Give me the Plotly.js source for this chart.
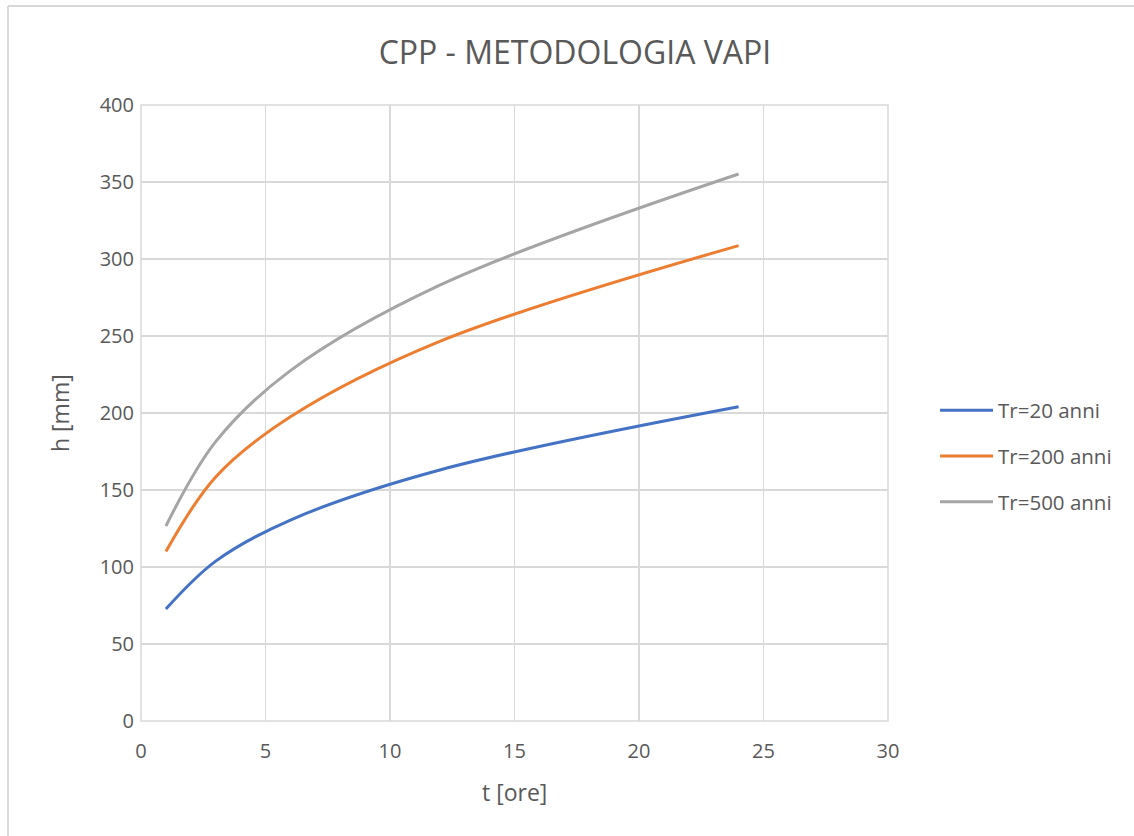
<!DOCTYPE html>
<html>
<head>
<meta charset="utf-8">
<script src="https://cdn.plot.ly/plotly-3.0.1.min.js"></script>
<style>html,body{margin:0;padding:0;background:#fff;}#chart{width:1134px;height:836px;}</style>
</head>
<body>
<div id="chart"></div>
<script>
const durations = [1, 3, 6, 12, 24];
const tr20 = [72.7, 103.8, 130.5, 163, 204.1];
const tr200 = [110, 158.5, 197.5, 246.5, 308.7];
const tr500 = [126.6, 181.4, 227.5, 283, 355.2];
const seriesNames = ['Tr=20 anni', 'Tr=200 anni', 'Tr=500 anni'];
const seriesColors = ['#4472C4', '#ED7D31', '#A5A5A5'];
const seriesValues = [tr20, tr200, tr500];

const FONT = 'Segoe UI, "Open Sans", "Noto Sans", sans-serif';
const TXT = '#595959';

const traces = seriesValues.map((v, i) => ({
  x: durations, y: v, type: 'scatter', mode: 'lines', name: seriesNames[i],
  legendgroup: 'g' + i,
  line: {color: seriesColors[i], width: 3, shape: 'spline', smoothing: 1}
}));

const layout = {
  width: 1134, height: 836,
  margin: {l: 141, r: 246, t: 105, b: 115},
  paper_bgcolor: '#ffffff', plot_bgcolor: '#ffffff',
  font: {family: FONT, color: TXT, size: 20},
  title: {text: 'CPP - METODOLOGIA VAPI', font: {size: 32, color: TXT, family: FONT},
          xref: 'container', x: 0.507, xanchor: 'center', yref: 'container', y: 1 - 53/836, yanchor: 'middle'},
  xaxis: {range: [0, 30], dtick: 5, tick0: 0, showgrid: true, gridcolor: '#d9d9d9', gridwidth: 1.5,
          zeroline: false, showline: false, ticks: '', ticklabelstandoff: 16, tickfont: {size: 20, color: TXT}, fixedrange: true},
  yaxis: {range: [0, 400], dtick: 50, tick0: 0, showgrid: true, gridcolor: '#d9d9d9', gridwidth: 1.5,
          zeroline: false, showline: false, ticks: '', ticklabelstandoff: 6, tickfont: {size: 20, color: TXT}, fixedrange: true},
  showlegend: true,
  legend: {x: (941 - 141) / 747 - 0.008, xanchor: 'left', y: (721 - 456) / 616, yanchor: 'middle',
           font: {size: 20.5, color: TXT, family: FONT}, traceorder: 'grouped', tracegroupgap: 16,
           itemwidth: 53, bgcolor: 'rgba(0,0,0,0)'},
  annotations: [
    {text: 'h [mm]', xref: 'paper', yref: 'paper', x: (60 - 141) / 747, y: (721 - 413) / 616,
     xanchor: 'center', yanchor: 'middle', textangle: -90, showarrow: false, font: {size: 23, color: TXT, family: FONT}},
    {text: 't [ore]', xref: 'paper', yref: 'paper', x: (514 - 141) / 747, y: (721 - 792) / 616,
     xanchor: 'center', yanchor: 'middle', showarrow: false, font: {size: 23, color: TXT, family: FONT}}
  ],
  shapes: [
    {type: 'line', xref: 'paper', yref: 'paper', x0: (8 - 141) / 747, x1: (8 - 141) / 747, y0: (721 - 6) / 616, y1: (721 - 840) / 616,
     line: {color: '#d9d9d9', width: 2}},
    {type: 'line', xref: 'paper', yref: 'paper', x0: (8 - 141) / 747, x1: (1140 - 141) / 747, y0: (721 - 6) / 616, y1: (721 - 6) / 616,
     line: {color: '#d9d9d9', width: 2}},
    {type: 'rect', xref: 'paper', yref: 'paper', x0: 0, x1: 1, y0: 0, y1: 1, line: {color: '#d9d9d9', width: 1.5}, layer: 'below'}
  ]
};

Plotly.newPlot('chart', traces, layout, {displayModeBar: false, staticPlot: true});
</script>
</body>
</html>
